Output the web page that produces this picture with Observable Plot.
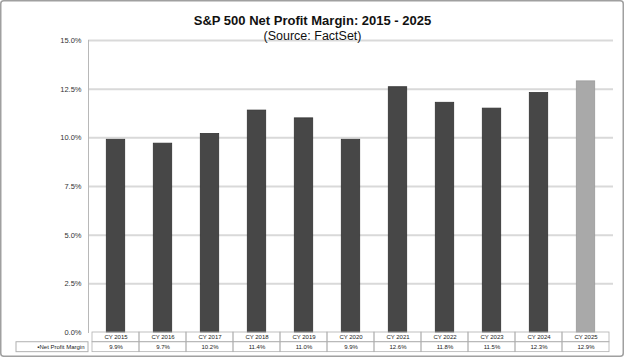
<!DOCTYPE html>
<html><head><meta charset="utf-8">
<script src="https://cdn.jsdelivr.net/npm/d3@7"></script>
<script src="https://cdn.jsdelivr.net/npm/@observablehq/plot@0.6"></script>
<style>body{margin:0;background:#fff} svg{display:block}</style>
</head><body><div id="chart"></div>
<script>
const title = "S&P 500 Net Profit Margin: 2015 - 2025";
const subtitle = "(Source: FactSet)";
const seriesName = "Net Profit Margin";
const categories = ["CY 2015","CY 2016","CY 2017","CY 2018","CY 2019","CY 2020","CY 2021","CY 2022","CY 2023","CY 2024","CY 2025"];
const margins = [9.9, 9.7, 10.2, 11.4, 11.0, 9.9, 12.6, 11.8, 11.5, 12.3, 12.9];
const marginLabels = ["9.9%","9.7%","10.2%","11.4%","11.0%","9.9%","12.6%","11.8%","11.5%","12.3%","12.9%"];
const estimated = [false,false,false,false,false,false,false,false,false,false,true];
const yTicks = [0, 2.5, 5, 7.5, 10, 12.5, 15];

const data = categories.map((c, i) => ({cat: c, value: margins[i], label: marginLabels[i], est: estimated[i]}));

// table rows drawn below the zero line, in y-scale units
const ROW1 = [0, -0.50];
const ROW2 = [-0.50, -1.01];
const mid = r => (r[0] + r[1]) / 2;

function outerBorder(index, scales, values, dims) {
  const g = d3.create("svg:g");
  g.append("rect").attr("x", 0.75).attr("y", 0.75)
    .attr("width", dims.width - 1.5).attr("height", dims.height - 1.5)
    .attr("rx", 3).attr("fill", "none").attr("stroke", "#a0a0a0").attr("stroke-width", 1.5);
  return g.node();
}
function legendCell(index, scales, values, dims) {
  const y1 = scales.y(ROW2[0]), y2 = scales.y(ROW2[1]);
  const g = d3.create("svg:g");
  g.append("rect").attr("x", 16).attr("y", y1)
    .attr("width", dims.marginLeft - 16).attr("height", y2 - y1)
    .attr("fill", "none").attr("stroke", "#b0b0b0");
  return g.node();
}

const chart = Plot.plot({
  width: 624,
  height: 357,
  marginLeft: 88,
  marginRight: 11,
  marginTop: 40,
  marginBottom: 25,
  style: {fontFamily: "Arial, 'Liberation Sans', sans-serif", background: "#fff"},
  x: {type: "band", domain: categories, padding: 0, axis: null},
  y: {domain: [0, 15], axis: null},
  marks: [
    Plot.ruleY(yTicks.filter(t => t > 0), {stroke: "#d9d9d9", strokeWidth: 2}),
    Plot.frame({anchor: "left", stroke: "#b8b8b8"}),
    Plot.axisY(yTicks, {tickSize: 0, tickPadding: 7, tickFormat: d => d.toFixed(1) + "%", fontSize: 7.5, color: "#333", label: null}),
    Plot.barY(data, {x: "cat", y: "value", fill: d => d.est ? "#a9a9a9" : "#474747", stroke: d => d.est ? "#9a9a9a" : "#333", strokeWidth: 0.8, insetLeft: 14.3, insetRight: 14.3}),
    Plot.barY(data, {x: "cat", y1: ROW1[0], y2: ROW1[1], fill: "none", stroke: "#b0b0b0", strokeWidth: 0.8}),
    Plot.barY(data, {x: "cat", y1: ROW2[0], y2: ROW2[1], fill: "none", stroke: "#b0b0b0", strokeWidth: 0.8}),
    Plot.text(data, {x: "cat", y: mid(ROW1), text: "cat", fontSize: 6, fill: "#222"}),
    Plot.text(data, {x: "cat", y: mid(ROW2), text: "label", fontSize: 6, fill: "#222"}),
    legendCell,
    Plot.text([seriesName], {y: mid(ROW2), frameAnchor: "left", textAnchor: "end", dx: -4, text: d => "\u25AA" + d, fontSize: 6, fill: "#222"}),
    Plot.text([title], {frameAnchor: "top", dx: -38.5, dy: -25, text: d => d, fontSize: 13, fontWeight: "bold", fill: "#111"}),
    Plot.text([subtitle], {frameAnchor: "top", dx: -38.5, dy: -9.5, text: d => d, fontSize: 12.5, fill: "#111"}),
    outerBorder
  ]
});
document.getElementById("chart").append(chart);
</script>
</body></html>
